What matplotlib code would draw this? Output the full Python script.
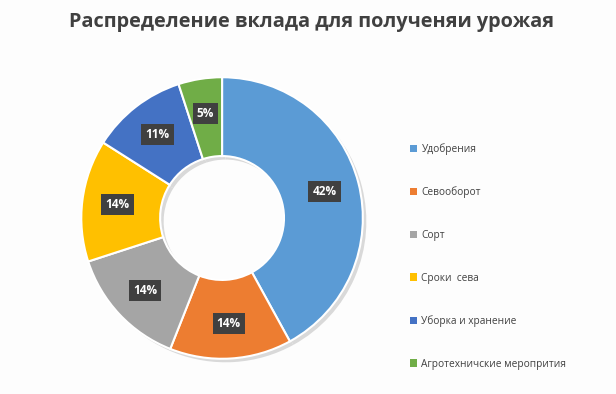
import matplotlib.pyplot as plt
from matplotlib.patches import Patch
import numpy as np

categories = ["Удобрения", "Севооборот", "Сорт", "Сроки  сева",
              "Уборка и хранение", "Агротехничские меропрития"]
values = [42, 14, 14, 14, 11, 5]
colors = ["#5B9BD5", "#ED7D31", "#A5A5A5", "#FFC000", "#4472C4", "#70AD47"]

plt.rcParams['font.family'] = ['Open Sans', 'DejaVu Sans']

fig = plt.figure(figsize=(6.16, 3.94), dpi=100)
fig.patch.set_facecolor("#fdfdfd")

ax = fig.add_axes([0.125, 0.0787, 0.471, 0.736])
ax.set_aspect('equal')
ax.axis('off')

# shadow
ax.pie(values, startangle=90, counterclock=False, radius=1.0,
       colors=["#d9d9d9"] * len(values), center=(0.025, -0.025),
       wedgeprops=dict(width=0.56, edgecolor="none"))

wedges, texts = ax.pie(values, startangle=90, counterclock=False, radius=1.0,
                       colors=colors,
                       wedgeprops=dict(width=0.56, edgecolor="white", linewidth=1.5))
total = sum(values)
for v, w in zip(values, wedges):
    theta = np.deg2rad((w.theta1 + w.theta2) / 2)
    r = 0.75
    ax.text(r * np.cos(theta), r * np.sin(theta), f"{round(100 * v / total)}%",
            ha='center', va='center', color='white', fontsize=8.5, fontweight='bold',
            bbox=dict(boxstyle='square,pad=0.35', facecolor='#404040', edgecolor='none'))
ax.set_xlim(-1.03, 1.03)
ax.set_ylim(-1.03, 1.03)

fig.text(0.505, 0.945, "Распределение вклада для полученяи урожая", ha='center', va='center',
         fontsize=14.3, fontweight='bold', color='#404040')

handles = [Patch(facecolor=c, edgecolor='none') for c in colors]
leg = fig.legend(handles, categories, loc='upper left', bbox_to_anchor=(0.666, 0.637),
                 frameon=False, fontsize=7.3, labelspacing=3.12, handlelength=0.7,
                 handleheight=0.7, handletextpad=0.4, labelcolor='#404040',
                 borderpad=0, borderaxespad=0)

fig.savefig("out.png", dpi=100, facecolor=fig.get_facecolor())
